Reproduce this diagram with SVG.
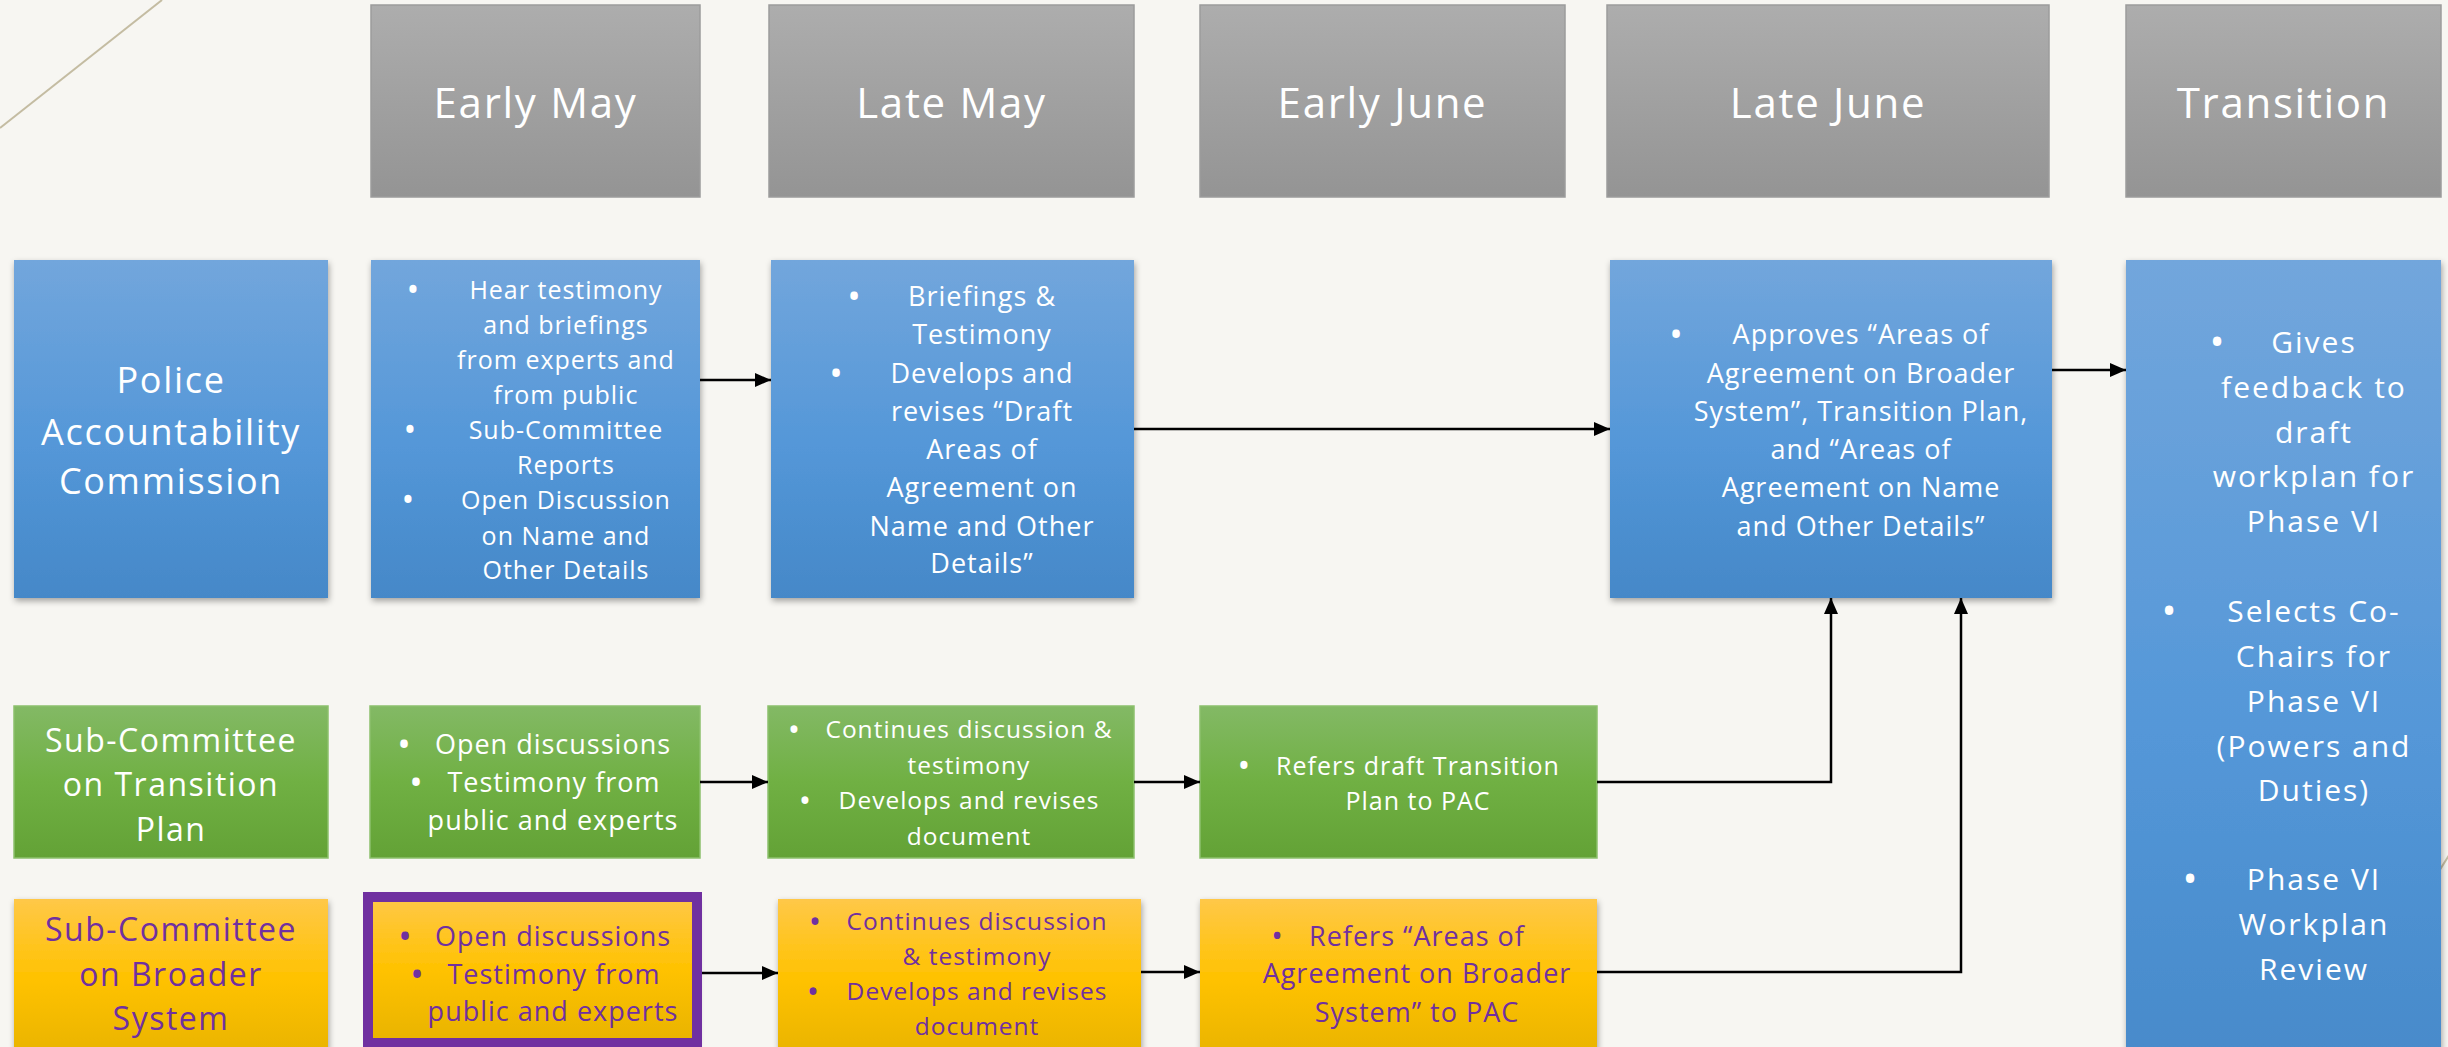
<svg xmlns="http://www.w3.org/2000/svg" width="2448" height="1047" viewBox="0 0 2448 1047">
<defs>
<linearGradient id="gGrey" x1="0" y1="0" x2="0" y2="1"><stop offset="0" stop-color="#adadad"/><stop offset="1" stop-color="#949494"/></linearGradient>
<linearGradient id="gBlue" x1="0" y1="0" x2="0" y2="1"><stop offset="0" stop-color="#72a6dc"/><stop offset="0.55" stop-color="#5497d8"/><stop offset="1" stop-color="#4588c8"/></linearGradient>
<linearGradient id="gGreen" x1="0" y1="0" x2="0" y2="1"><stop offset="0" stop-color="#83b965"/><stop offset="0.5" stop-color="#70b043"/><stop offset="1" stop-color="#63a236"/></linearGradient>
<linearGradient id="gYellow" x1="0" y1="0" x2="0" y2="1"><stop offset="0" stop-color="#ffc848"/><stop offset="0.5" stop-color="#ffc200"/><stop offset="1" stop-color="#e8b300"/></linearGradient>
<filter id="sh" x="-10%" y="-10%" width="120%" height="125%"><feDropShadow dx="1" dy="3" stdDeviation="3" flood-color="#000" flood-opacity="0.35"/></filter>
<marker id="ah" viewBox="0 0 16 14" refX="16" refY="7" markerWidth="16" markerHeight="14" markerUnits="userSpaceOnUse" orient="auto"><path d="M0,0 L16,7 L0,14 Z" fill="#000"/></marker>
<style>
text{font-family:"Open Sans","Liberation Sans",sans-serif;text-anchor:middle}
.w{fill:#ffffff}
.p{fill:#7030a0}
.hdr{font-size:42px;letter-spacing:1.7px}
.lbl{font-size:36px;letter-spacing:1.7px}
.sub{font-size:32px;letter-spacing:1.5px}
.t24{font-size:24.5px;letter-spacing:1px}
.t25{font-size:25px;letter-spacing:1px}
.t27{font-size:27px;letter-spacing:1px}
.t30{font-size:30px;letter-spacing:2px}
.b24{font-size:33px}
.b25{font-size:34px}
.b27{font-size:36px}
.b27s{font-size:31px}
.b30{font-size:40px}
.hbox{fill:url(#gGrey);stroke:#9c9c9c;stroke-width:1.5}
.blue{fill:url(#gBlue);filter:url(#sh)}
.green{fill:url(#gGreen);stroke:#8cc06c;stroke-width:1.5}
.yellow{fill:url(#gYellow);filter:url(#sh)}
.conn{fill:none;stroke:#000;stroke-width:2.5}
</style>
</defs>
<rect x="0" y="0" width="2448" height="1047" fill="#f7f6f2"/>
<g id="decor">
<line x1="162" y1="0" x2="0" y2="128" stroke="#c4bca2" stroke-width="2"/>
<line x1="2400" y1="933" x2="2470" y2="822" stroke="#c4bca2" stroke-width="2"/>
</g>

<g id="hdr-early-may"><rect class="hbox" x="371" y="5" width="329" height="192"/><text class="hdr w" x="535.5" y="118">Early May</text></g>
<g id="hdr-late-may"><rect class="hbox" x="769" y="5" width="365" height="192"/><text class="hdr w" x="951.5" y="118">Late May</text></g>
<g id="hdr-early-june"><rect class="hbox" x="1200" y="5" width="365" height="192"/><text class="hdr w" x="1382.5" y="118">Early June</text></g>
<g id="hdr-late-june"><rect class="hbox" x="1607" y="5" width="442" height="192"/><text class="hdr w" x="1828" y="118">Late June</text></g>
<g id="hdr-transition"><rect class="hbox" x="2126" y="5" width="315" height="192"/><text class="hdr w" x="2283.5" y="118">Transition</text></g>

<g id="pac"><rect class="blue" x="14" y="260" width="314" height="338"/>
<text class="lbl w" x="171" y="393">Police</text><text class="lbl w" x="171" y="445">Accountability</text><text class="lbl w" x="171" y="494">Commission</text></g>

<g id="pac-early-may"><rect class="blue" x="371" y="260" width="329" height="338"/>
<text class="b25 w" x="413" y="302">•</text><text class="b25 w" x="410" y="442">•</text><text class="b25 w" x="408" y="512">•</text>
<text class="t25 w" x="566" y="299">Hear testimony</text>
<text class="t25 w" x="566" y="334">and briefings</text>
<text class="t25 w" x="566" y="369">from experts and</text>
<text class="t25 w" x="566" y="404">from public</text>
<text class="t25 w" x="566" y="439">Sub-Committee</text>
<text class="t25 w" x="566" y="474">Reports</text>
<text class="t25 w" x="566" y="509">Open Discussion</text>
<text class="t25 w" x="566" y="545">on Name and</text>
<text class="t25 w" x="566" y="579">Other Details</text></g>

<g id="pac-late-may"><rect class="blue" x="771" y="260" width="363" height="338"/>
<text class="b27 w" x="854" y="309">•</text><text class="b27 w" x="836" y="386">•</text>
<text class="t27 w" x="982" y="306">Briefings &amp;</text>
<text class="t27 w" x="982" y="344">Testimony</text>
<text class="t27 w" x="982" y="383">Develops and</text>
<text class="t27 w" x="982" y="421">revises “Draft</text>
<text class="t27 w" x="982" y="459">Areas of</text>
<text class="t27 w" x="982" y="497">Agreement on</text>
<text class="t27 w" x="982" y="536">Name and Other</text>
<text class="t27 w" x="982" y="573">Details”</text></g>

<g id="pac-late-june"><rect class="blue" x="1610" y="260" width="442" height="338"/>
<text class="b27 w" x="1676" y="347">•</text>
<text class="t27 w" x="1861" y="344">Approves “Areas of</text>
<text class="t27 w" x="1861" y="383">Agreement on Broader</text>
<text class="t27 w" x="1861" y="421">System”, Transition Plan,</text>
<text class="t27 w" x="1861" y="459">and “Areas of</text>
<text class="t27 w" x="1861" y="497">Agreement on Name</text>
<text class="t27 w" x="1861" y="536">and Other Details”</text></g>

<g id="pac-transition"><rect class="blue" x="2126" y="260" width="315" height="860"/>
<text class="b30 w" x="2217" y="356">•</text><text class="b30 w" x="2169" y="625">•</text><text class="b30 w" x="2190" y="893">•</text>
<text class="t30 w" x="2314" y="353">Gives</text>
<text class="t30 w" x="2314" y="398">feedback to</text>
<text class="t30 w" x="2314" y="443">draft</text>
<text class="t30 w" x="2314" y="487">workplan for</text>
<text class="t30 w" x="2314" y="532">Phase VI</text>
<text class="t30 w" x="2314" y="622">Selects Co-</text>
<text class="t30 w" x="2314" y="667">Chairs for</text>
<text class="t30 w" x="2314" y="712">Phase VI</text>
<text class="t30 w" x="2314" y="757">(Powers and</text>
<text class="t30 w" x="2314" y="801">Duties)</text>
<text class="t30 w" x="2314" y="890">Phase VI</text>
<text class="t30 w" x="2314" y="935">Workplan</text>
<text class="t30 w" x="2314" y="980">Review</text></g>

<g id="sct"><rect class="green" x="14" y="706" width="314" height="152"/>
<text class="sub w" x="171" y="752">Sub-Committee</text><text class="sub w" x="171" y="796">on Transition</text><text class="sub w" x="171" y="841">Plan</text></g>

<g id="sct-early-may"><rect class="green" x="370" y="706" width="330" height="152"/>
<text class="b27 w" x="404" y="757">•</text><text class="b27 w" x="416" y="795">•</text>
<text class="t27 w" x="553" y="754">Open discussions</text>
<text class="t27 w" x="554" y="792">Testimony from</text>
<text class="t27 w" x="553" y="830">public and experts</text></g>

<g id="sct-late-may"><rect class="green" x="768" y="706" width="366" height="152"/>
<text class="b24 w" x="794" y="741">•</text><text class="b24 w" x="805" y="812">•</text>
<text class="t24 w" x="969" y="738">Continues discussion &amp;</text>
<text class="t24 w" x="969" y="774">testimony</text>
<text class="t24 w" x="969" y="809">Develops and revises</text>
<text class="t24 w" x="969" y="845">document</text></g>

<g id="sct-early-june"><rect class="green" x="1200" y="706" width="397" height="152"/>
<text class="b25 w" x="1244" y="778">•</text>
<text class="t25 w" x="1418" y="775">Refers draft Transition</text>
<text class="t25 w" x="1418" y="810">Plan to PAC</text></g>

<g id="scb"><rect class="yellow" x="14" y="899" width="314" height="160"/>
<text class="sub p" x="171" y="941">Sub-Committee</text><text class="sub p" x="171" y="986">on Broader</text><text class="sub p" x="171" y="1030">System</text></g>

<g id="scb-early-may"><rect class="yellow" x="368" y="897" width="329" height="146"/>
<rect x="368" y="897" width="329" height="146" fill="none" stroke="#7030a0" stroke-width="10"/>
<text class="b27 p" x="405" y="949">•</text><text class="b27 p" x="417" y="987">•</text>
<text class="t27 p" x="553" y="946">Open discussions</text>
<text class="t27 p" x="554" y="984">Testimony from</text>
<text class="t27 p" x="553" y="1021">public and experts</text></g>

<g id="scb-late-may"><rect class="yellow" x="778" y="899" width="363" height="160"/>
<text class="b24 p" x="815" y="933">•</text><text class="b24 p" x="813" y="1003">•</text>
<text class="t24 p" x="977" y="930">Continues discussion</text>
<text class="t24 p" x="977" y="965">&amp; testimony</text>
<text class="t24 p" x="977" y="1000">Develops and revises</text>
<text class="t24 p" x="977" y="1035">document</text></g>

<g id="scb-early-june"><rect class="yellow" x="1200" y="899" width="397" height="160"/>
<text class="b27s p" x="1277" y="947">•</text>
<text class="t27 p" x="1417" y="946">Refers “Areas of</text>
<text class="t27 p" x="1417" y="983">Agreement on Broader</text>
<text class="t27 p" x="1417" y="1022">System” to PAC</text></g>

<g id="connectors">
<path class="conn" d="M700,380 H771" marker-end="url(#ah)"/>
<path class="conn" d="M1134,429 H1610" marker-end="url(#ah)"/>
<path class="conn" d="M2052,370 H2126" marker-end="url(#ah)"/>
<path class="conn" d="M700,782 H768" marker-end="url(#ah)"/>
<path class="conn" d="M1134,782 H1200" marker-end="url(#ah)"/>
<path class="conn" d="M1597,782 H1831 V598" marker-end="url(#ah)"/>
<path class="conn" d="M702,973 H778" marker-end="url(#ah)"/>
<path class="conn" d="M1141,972 H1200" marker-end="url(#ah)"/>
<path class="conn" d="M1597,972 H1961 V598" marker-end="url(#ah)"/>
</g>
</svg>
